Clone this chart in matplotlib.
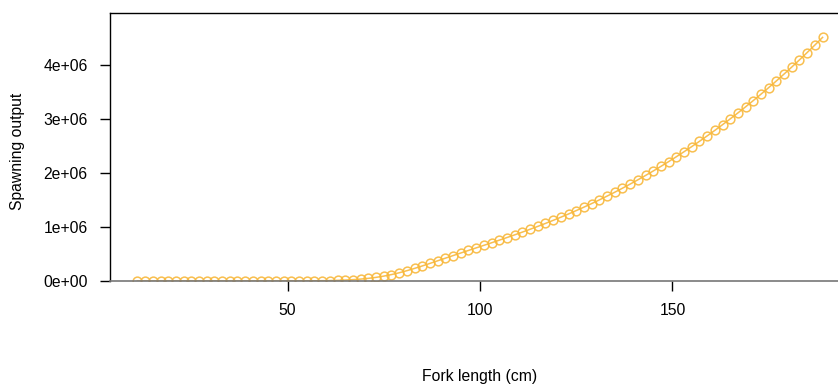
import matplotlib
matplotlib.use("Agg")
import matplotlib.pyplot as plt
from matplotlib.ticker import FixedLocator

plt.rcParams['font.family'] = ['Liberation Sans', 'DejaVu Sans']

fork_length = list(range(11, 190, 2))
spawning_output = [
    0, 0, 0, 0, 0, 0, 0, 0, 0, 0,            # 11-29
    13, 21, 33, 53, 84,                       # 31-39
    132, 206, 318, 488, 743,                  # 41-49
    1127, 1700, 2551, 3801, 5628,             # 51-59
    8278, 12078, 17466, 24986, 35300,         # 61-69
    49153, 67256, 90270, 118575, 152129,      # 71-79
    190493, 232910, 278215, 325375, 373444,   # 81-89
    421658, 469711, 517370, 564679, 611788,   # 91-99
    658967, 706474, 754377, 803131, 852814,   # 101-109
    903544, 955675, 1009129, 1064131, 1120764,  # 111-119
    1179114, 1239237, 1301210, 1365083, 1430926,  # 121-129
    1498772, 1568660, 1640643, 1714766, 1791057,  # 131-139
    1869542, 1950290, 2033300, 2118650, 2206330,  # 141-149
    2296400, 2388880, 2483800, 2581200, 2681110,  # 151-159
    2783570, 2888600, 2996247, 3106528, 3219482,  # 161-169
    3335141, 3453537, 3574703, 3698670, 3825471,  # 171-179
    3955137, 4087701, 4223194, 4361648, 4503096,  # 181-189
]
x_ticks = [50, 100, 150]
y_ticks = [0, 1e6, 2e6, 3e6, 4e6]
y_tick_labels = ["0e+00", "1e+06", "2e+06", "3e+06", "4e+06"]

W, H = 838, 385
fig = plt.figure(figsize=(W / 100, H / 100), dpi=100)
left_px, right_px, top_px, bottom_px = 110, 850, 13, 281
ax = fig.add_axes([left_px / W, (H - bottom_px) / H,
                   (right_px - left_px) / W, (bottom_px - top_px) / H])

color = '#F8B83C'
ax.plot(fork_length, spawning_output, '-', color=color, lw=1.1, alpha=0.9)
ax.plot(fork_length, spawning_output, 'o', mfc='none', mec=color, ms=6.3,
        mew=1.1, alpha=0.9)

xmin, xmax = min(fork_length), max(fork_length)
ext = 0.04 * (xmax - xmin)
ax.set_xlim(xmin - ext, xmax + ext)
ax.set_ylim(0, 1.1 * max(spawning_output))

fs = 11.3
ax.xaxis.set_major_locator(FixedLocator(x_ticks))
ax.yaxis.set_major_locator(FixedLocator(y_ticks))
ax.set_yticklabels(y_tick_labels)
ax.tick_params(axis='x', direction='out', length=7, width=1, pad=9,
               labelsize=fs, colors='black')
ax.tick_params(axis='y', direction='out', length=7, width=1, pad=9,
               labelsize=fs, colors='black')

for s in ['left', 'top']:
    ax.spines[s].set_color('black')
    ax.spines[s].set_linewidth(1.0)
ax.spines['right'].set_visible(False)
ax.spines['bottom'].set_color('#777777')
ax.spines['bottom'].set_linewidth(1.2)

fig.text(480 / W, (H - 376) / H, "Fork length (cm)", ha='center', va='center',
         fontsize=fs)
fig.text(18 / W, (H - 151) / H, "Spawning output", ha='center', va='center',
         rotation=90, fontsize=fs)

fig.savefig("out.png", dpi=100)
